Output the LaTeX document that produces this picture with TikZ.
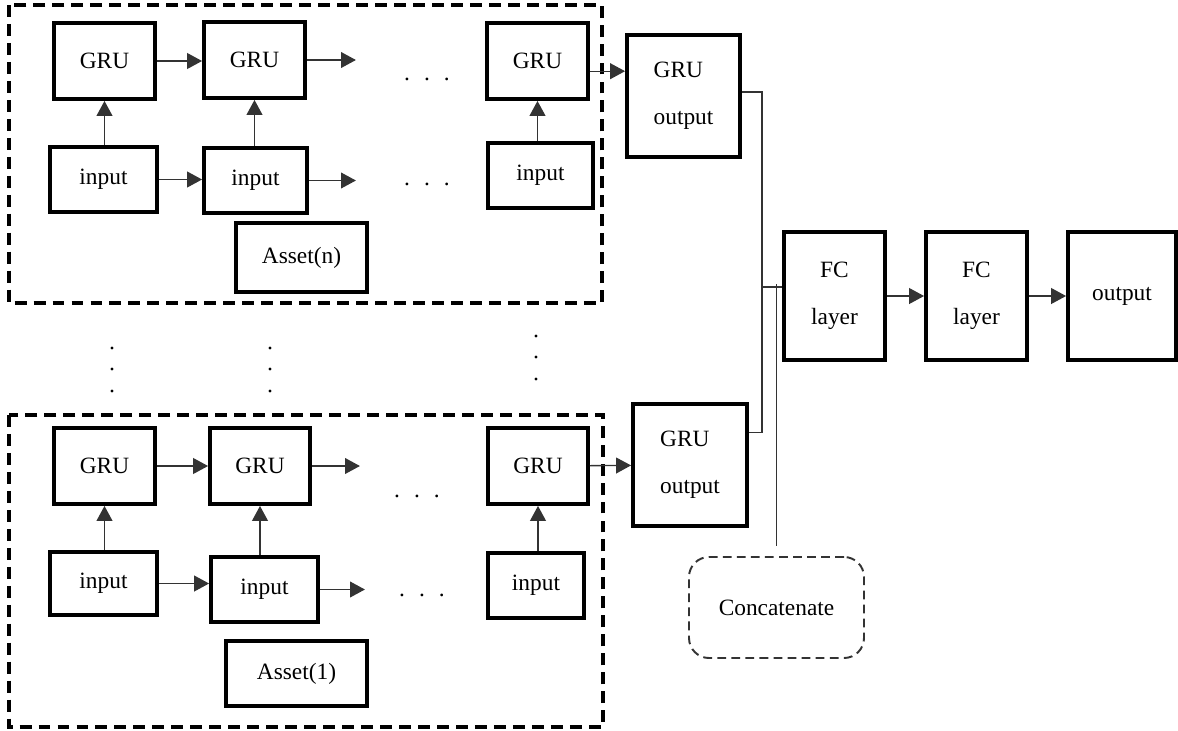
\documentclass[tikz,border=0pt]{standalone}
\usepackage{fontspec}
\setmainfont{Liberation Serif}
\usetikzlibrary{arrows.meta}

\tikzset{
  box/.style={draw, line width=2.2pt, inner sep=0pt, font=\fontsize{13.3}{27}\selectfont},
  sz/.style 2 args={minimum width=#1*0.02cm, minimum height=#2*0.02cm},
  grp/.style={line width=2.2pt, dash pattern=on 6.8pt off 4pt},
  catbox/.style={draw=black!80, line width=1.1pt, dash pattern=on 5pt off 3pt,
    rounded corners=0.4cm, font=\fontsize{13.3}{16}\selectfont},
  link/.style={draw=black!80, line width=0.75pt},
  arr/.style={link, ->},
  dotrow/.style={inner sep=0pt, font=\fontsize{13.3}{16}\selectfont},
}
\newcommand{\rowdots}{.\hspace{8pt}.\hspace{8pt}.}

\begin{document}
\begin{tikzpicture}[x=0.02cm, y=-0.02cm, >={Triangle[length=8.5pt,width=9pt]}]
  \useasboundingbox (0,0) rectangle (1178,731);

  % 1) Asset(n) group at the top
  \draw[grp] (9,5) rectangle (602,303);
  \node[box, sz={101}{76}] (gruA1) at (104.5,61) {GRU};
  \node[box, sz={101}{76}] (gruA2) at (254.5,60) {GRU};
  \node[box, sz={101}{76}] (gruA3) at (537.5,61) {GRU};
  \node[box, sz={107}{65}] (inA1) at (103.5,179.5) {input};
  \node[box, sz={103}{65}] (inA2) at (255.5,180.5) {input};
  \node[box, sz={105}{65}] (inA3) at (540.5,175.5) {input};
  \node[box, sz={131}{69}] (assetA) at (301.5,257.5) {Asset(n)};
  \node[dotrow] (dotsA1) at (427,79) {\rowdots};
  \node[dotrow] (dotsA2) at (427,184) {\rowdots};

  \draw[arr] (gruA1) -- (gruA1 -| gruA2.west);
  \draw[arr] (inA1) -- (inA1 -| inA2.west);
  \draw[arr] (gruA1 |- inA1.north) -- (gruA1.south);
  \draw[arr] (gruA2 |- inA2.north) -- (gruA2.south);
  \draw[arr] (gruA3 |- inA3.north) -- (gruA3.south);
  \path (gruA2.east) ++(49,0) coordinate (endA1);
  \path (inA2.east) ++(47,0) coordinate (endA2);
  \draw[arr] (gruA2) -- (endA1);
  \draw[arr] (inA2) -- (endA2);

  % 2) vertical dots between the groups
  \foreach \x/\y in {112/348, 270/348, 536/336}
    \foreach \d in {0,21,43}
      \fill (\x,\y+\d) circle (0.9pt);

  % 3) Asset(1) group at the bottom
  \draw[grp] (9,415) rectangle (603,727);
  \node[box, sz={101}{76}] (gruB1) at (104.5,466) {GRU};
  \node[box, sz={100}{76}] (gruB2) at (260,466) {GRU};
  \node[box, sz={100}{76}] (gruB3) at (538,466) {GRU};
  \node[box, sz={107}{63}] (inB1) at (103.5,583.5) {input};
  \node[box, sz={107}{65}] (inB2) at (264.5,589.5) {input};
  \node[box, sz={96}{65}] (inB3) at (536,585.5) {input};
  \node[box, sz={141}{65}] (assetB) at (296.5,673.5) {Asset(1)};
  \node[dotrow] (dotsB1) at (417,496) {\rowdots};
  \node[dotrow] (dotsB2) at (422,595) {\rowdots};

  \draw[arr] (gruB1) -- (gruB1 -| gruB2.west);
  \draw[arr] (inB1) -- (inB1 -| inB2.west);
  \draw[arr] (gruB1 |- inB1.north) -- (gruB1.south);
  \draw[arr] (gruB2 |- inB2.north) -- (gruB2.south);
  \draw[arr] (gruB3 |- inB3.north) -- (gruB3.south);
  \path (gruB2.east) ++(48,0) coordinate (endB1);
  \path (inB2.east) ++(45,0) coordinate (endB2);
  \draw[arr] (gruB2) -- (endB1);
  \draw[arr] (inB2) -- (endB2);

  % 4) GRU outputs, concatenation and the FC head
  \node[box, sz={113}{122}, align=left] (gon) at (683.5,96) {GRU\\output};
  \node[box, sz={114}{122}, align=left] (gob) at (690,465) {GRU\\output};
  \node[box, sz={101}{128}, align=center] (fc1) at (834.5,296) {FC\\layer};
  \node[box, sz={101}{128}, align=center] (fc2) at (976.5,296) {FC\\layer};
  \node[box, sz={108}{128}] (outp) at (1122,296) {output};
  \node[catbox, sz={175}{101}] (cat) at (776.5,607.5) {Concatenate};

  \draw[arr] (gruA3.east |- gon.157) -- (gon.157);
  \draw[arr] (gruB3) -- (gob);
  \coordinate (bus) at (762,287);
  \draw[link] (gon.4) -| (bus) |- (gob.29);
  \draw[link] (bus) -- (fc1.west |- bus);
  \draw[link] (cat.north |- bus) ++(0,-3) -- ([yshift=0.2cm]cat.north);
  \draw[arr] (fc1) -- (fc2);
  \draw[arr] (fc2) -- (outp);

\end{tikzpicture}
\end{document}
